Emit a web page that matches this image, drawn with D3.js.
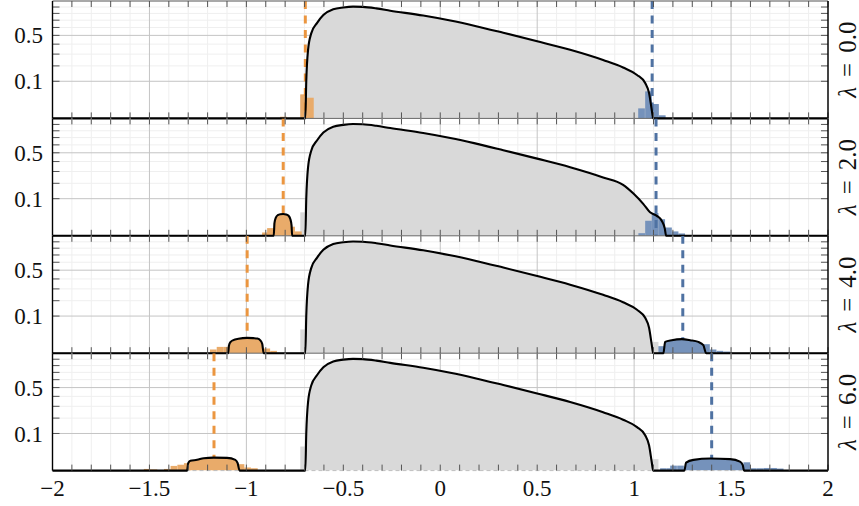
<!DOCTYPE html>
<html><head><meta charset="utf-8">
<script src="https://cdn.jsdelivr.net/npm/d3@7"></script>
<style>
body{margin:0;background:#fff}
svg{display:block}
</style>
</head><body>
<svg id="c" width="859" height="506" font-family="'Liberation Serif', 'Times New Roman', serif"></svg>
<script>
// ---------------- data ----------------
const lambdas = ["0.0", "2.0", "4.0", "6.0"];
const xTicks = [-2, -1.5, -1, -0.5, 0, 0.5, 1, 1.5, 2];
const yTicks = [0.1, 0.5];
const yMinor = [0.2, 0.3, 0.4, 0.6, 0.7, 0.8, 0.9];
const binWidth = 0.0345;

// bulk density (theory curve)
const bulk = [[-0.696,0],[-0.691,0.105],[-0.682,0.338],[-0.665,0.528],[-0.636,0.659],[-0.603,0.775],
  [-0.552,0.864],[-0.5,0.893],[-0.45,0.906],[-0.40,0.902],[-0.33,0.878],[-0.258,0.842],[-0.088,0.768],
  [0.052,0.695],[0.18,0.620],[0.325,0.532],[0.5,0.432],[0.67,0.341],[0.84,0.247],[0.943,0.188],
  [1.015,0.137],[1.057,0.091],[1.077,0.0468],[1.091,0.0051],[1.098,0]];
const bulkShoulder = [[-0.696,0],[-0.691,0.105],[-0.682,0.338],[-0.665,0.528],[-0.636,0.659],[-0.603,0.775],
  [-0.552,0.864],[-0.5,0.893],[-0.45,0.906],[-0.40,0.902],[-0.33,0.878],[-0.258,0.842],[-0.088,0.768],
  [0.052,0.695],[0.18,0.620],[0.325,0.532],[0.5,0.432],[0.67,0.341],[0.84,0.247],[0.943,0.188],
  [0.995,0.131],[1.048,0.073],[1.082,0.040],[1.117,0.029],[1.143,0.016],[1.158,0.004],[1.165,0]];
const bulkCurves = [bulk, bulkShoulder, bulk, bulk];

// predicted outlier positions (dashed lines)
const orangeLine = [-0.696, -0.81, -0.996, -1.167];
const blueLine = [1.093, 1.113, 1.251, 1.40];

// outlier theory bumps
const orangeBump = [
  null,
  [[-0.859,0],[-0.855,0.012],[-0.848,0.024],[-0.838,0.031],[-0.825,0.0338],[-0.81,0.0344],[-0.795,0.033],[-0.782,0.029],[-0.773,0.02],[-0.767,0.008],[-0.764,0]],
  [[-1.094,0],[-1.09,0.004],[-1.082,0.009],[-1.067,0.0125],[-1.041,0.0152],[-0.996,0.0171],[-0.964,0.0165],[-0.943,0.0155],[-0.928,0.012],[-0.918,0.006],[-0.911,0]],
  [[-1.306,0],[-1.3,0.004],[-1.289,0.007],[-1.254,0.0084],[-1.22,0.0112],[-1.169,0.0123],[-1.1,0.0118],[-1.057,0.0084],[-1.045,0.004],[-1.035,0]]
];
const blueBump = [
  null,
  null,
  [[1.151,0],[1.16,0.0093],[1.194,0.0123],[1.246,0.0143],[1.289,0.0123],[1.331,0.0093],[1.357,0.0047],[1.371,0]],
  [[1.259,0],[1.268,0.0047],[1.306,0.0084],[1.392,0.0105],[1.495,0.0095],[1.546,0.0059],[1.56,0.0024],[1.567,0]]
];

// histograms: [bin start, height]
const greyHist = [
  [[-0.722,0.040],[1.091,0.010]],
  [[-0.722,0.040]],
  [[-0.722,0.041],[1.091,0.0093]],
  [[-0.722,0.042],[1.091,0.0095]]
];
const orangeHist = [
  [[-0.826,0.0002],[-0.722,0.042],[-0.687,0.031]],
  [[-0.919,0.0008],[-0.893,0.0043],[-0.859,0.012],[-0.784,0.006],[-0.749,0.0014]],
  [[-1.188,0.001],[-1.153,0.0029],[-1.119,0.0029],[-0.912,0.0016],[-0.877,0.0004]],
  [[-1.529,0.0002],[-1.494,0.0001],[-1.425,0.0002],[-1.391,0.0016],[-1.356,0.0025],[-1.322,0.004],[-1.045,0.003],[-1.011,0.0007],[-0.976,0.0004]]
];
const blueHist = [
  [[1.021,0.0073],[1.057,0.053],[1.093,0.015],[1.128,0.0007]],
  [[1.022,0.0005],[1.057,0.0164],[1.091,0.0376],[1.125,0.020],[1.16,0.005],[1.194,0.0014],[1.228,0.0004]],
  [[1.125,0.0036],[1.356,0.0059],[1.39,0.001],[1.425,0.0004],[1.46,0.0002]],
  [[1.134,0.0004],[1.169,0.0004],[1.186,0.0018],[1.222,0.0018],[1.564,0.005],[1.598,0.0004],[1.633,0.0004],[1.667,0.0005],[1.702,0.0005],[1.736,0.0003]]
];

// ---------------- drawing ----------------
const FONT = "'Liberation Serif', 'Times New Roman', serif";
const svg = d3.select("#c");
const left = 52.5, right = 828, top0 = 1, panelH = 117.4;
const x = d3.scaleLinear().domain([-2, 2]).range([left, right]);
const xMinor = d3.range(-20, 21).map(i => i / 10);

const C = {
  grey: "#d9d9d9", orange: "#e9ab6a", orangeDash: "#eb9640",
  blue: "#7592bb", blueDash: "#4f72a2"
};

lambdas.forEach((lam, i) => {
  const pt = top0 + i * panelH, pb = pt + panelH;
  const y = d3.scaleSqrt().domain([0, 1]).range([pb, pt]);
  const g = svg.append("g");
  const clipId = "clip" + i;
  g.append("clipPath").attr("id", clipId).append("rect")
    .attr("x", left).attr("y", pt).attr("width", right - left).attr("height", panelH);

  // grid
  const grid = g.append("g");
  grid.selectAll(".vmin").data(xMinor.filter(v => Math.abs(v * 2 - Math.round(v * 2)) > 1e-6)).join("line")
    .attr("x1", d => x(d)).attr("x2", d => x(d)).attr("y1", pt).attr("y2", pb)
    .attr("stroke", "#efefef").attr("stroke-width", 1);
  grid.selectAll(".hmin").data(yMinor).join("line")
    .attr("x1", left).attr("x2", right).attr("y1", d => y(d)).attr("y2", d => y(d))
    .attr("stroke", "#efefef").attr("stroke-width", 1);
  grid.selectAll(".vmaj").data(xTicks).join("line")
    .attr("x1", d => x(d)).attr("x2", d => x(d)).attr("y1", pt).attr("y2", pb)
    .attr("stroke", "#c4c4c4").attr("stroke-width", 1);
  grid.selectAll(".hmaj").data(yTicks).join("line")
    .attr("x1", left).attr("x2", right).attr("y1", d => y(d)).attr("y2", d => y(d))
    .attr("stroke", "#c4c4c4").attr("stroke-width", 1);

  const plot = g.append("g").attr("clip-path", `url(#${clipId})`);

  // grey bulk area
  const area = d3.area().x(d => x(d[0])).y0(pb).y1(d => y(d[1])).curve(d3.curveMonotoneX);
  plot.append("path").datum(bulkCurves[i]).attr("d", area).attr("fill", C.grey);

  const bars = (data, color) => plot.append("g").selectAll("rect").data(data).join("rect")
    .attr("x", d => x(d[0])).attr("width", d => x(d[0] + binWidth) - x(d[0]))
    .attr("y", d => y(d[1])).attr("height", d => pb - y(d[1]))
    .attr("fill", color);
  bars(greyHist[i], C.grey);
  bars(orangeHist[i], C.orange);
  bars(blueHist[i], C.blue);

  // dashed predicted lines
  plot.append("line").attr("x1", x(orangeLine[i])).attr("x2", x(orangeLine[i]))
    .attr("y1", pt).attr("y2", pb).attr("stroke", C.orangeDash).attr("stroke-width", 3)
    .attr("stroke-dasharray", "8,6.5");
  plot.append("line").attr("x1", x(blueLine[i])).attr("x2", x(blueLine[i]))
    .attr("y1", pt).attr("y2", pb).attr("stroke", C.blueDash).attr("stroke-width", 3)
    .attr("stroke-dasharray", "8,6.5");

  // bump fills
  if (orangeBump[i]) plot.append("path").datum(orangeBump[i]).attr("d", area).attr("fill", C.orange);
  if (blueBump[i]) plot.append("path").datum(blueBump[i]).attr("d", area).attr("fill", C.blue);

  // bottom baseline
  if (i === lambdas.length - 1) {
    g.append("line").attr("x1", left).attr("x2", right).attr("y1", pb).attr("y2", pb)
      .attr("stroke", "#bdbdbd").attr("stroke-width", 1).attr("stroke-dasharray", "4,3");
  } else {
    g.append("line").attr("x1", left).attr("x2", right).attr("y1", pb).attr("y2", pb)
      .attr("stroke", "#666").attr("stroke-width", 1);
  }

  // black theory curve
  let pts = [[-2, 0]];
  if (orangeBump[i]) pts = pts.concat(orangeBump[i]);
  pts = pts.concat(bulkCurves[i]);
  if (blueBump[i]) pts = pts.concat(blueBump[i]);
  pts.push([2, 0]);
  const line = d3.line().x(d => x(d[0])).y(d => y(d[1])).curve(d3.curveMonotoneX);
  g.append("path").datum(pts).attr("d", line).attr("fill", "none")
    .attr("stroke", "#000").attr("stroke-width", 2.1).attr("stroke-linejoin", "round");

  // ticks (inside)
  const tk = g.append("g").attr("stroke", "#555").attr("stroke-width", 1);
  xMinor.forEach(v => {
    tk.append("line").attr("x1", x(v)).attr("x2", x(v)).attr("y1", pb).attr("y2", pb - 6);
    tk.append("line").attr("x1", x(v)).attr("x2", x(v)).attr("y1", pt).attr("y2", pt + 6);
  });
  yMinor.concat(yTicks).forEach(v => {
    tk.append("line").attr("x1", left).attr("x2", left + 7).attr("y1", y(v)).attr("y2", y(v));
    tk.append("line").attr("x1", right).attr("x2", right - 7).attr("y1", y(v)).attr("y2", y(v));
  });

  // frame
  if (i === 0) g.append("line").attr("x1", left).attr("x2", right).attr("y1", pt).attr("y2", pt)
    .attr("stroke", "#555").attr("stroke-width", 1.2);
  g.append("line").attr("x1", left).attr("x2", left).attr("y1", pt).attr("y2", pb)
    .attr("stroke", "#000").attr("stroke-width", 1.4);
  g.append("line").attr("x1", right).attr("x2", right).attr("y1", pt).attr("y2", pb)
    .attr("stroke", "#000").attr("stroke-width", 1.4);

  // y tick labels
  g.selectAll(".yl").data(yTicks).join("text")
    .attr("x", 43).attr("y", d => y(d)).attr("dy", "0.35em")
    .attr("text-anchor", "end").attr("font-size", 23).attr("font-family", FONT).attr("fill", "#111")
    .text(d => d3.format(".1f")(d));

  // right label
  const lab = g.append("text")
    .attr("transform", `translate(847,${(pt + pb) / 2}) rotate(-90)`)
    .attr("text-anchor", "middle").attr("dominant-baseline", "central")
    .attr("font-size", 25).attr("font-family", FONT).attr("fill", "#111");
  lab.append("tspan").attr("font-style", "italic").text("λ");
  lab.append("tspan").attr("dx", 10).text("=");
  lab.append("tspan").attr("dx", 10).text(lam);
});

// x tick labels
const fmt = t => (t < 0 ? "\u2212" : "") + Math.abs(t);
svg.append("g").selectAll("text").data(xTicks).join("text")
  .attr("x", d => x(d)).attr("y", 496).attr("text-anchor", "middle")
  .attr("font-size", 23).attr("font-family", FONT).attr("fill", "#111").text(fmt);
</script>
</body></html>
